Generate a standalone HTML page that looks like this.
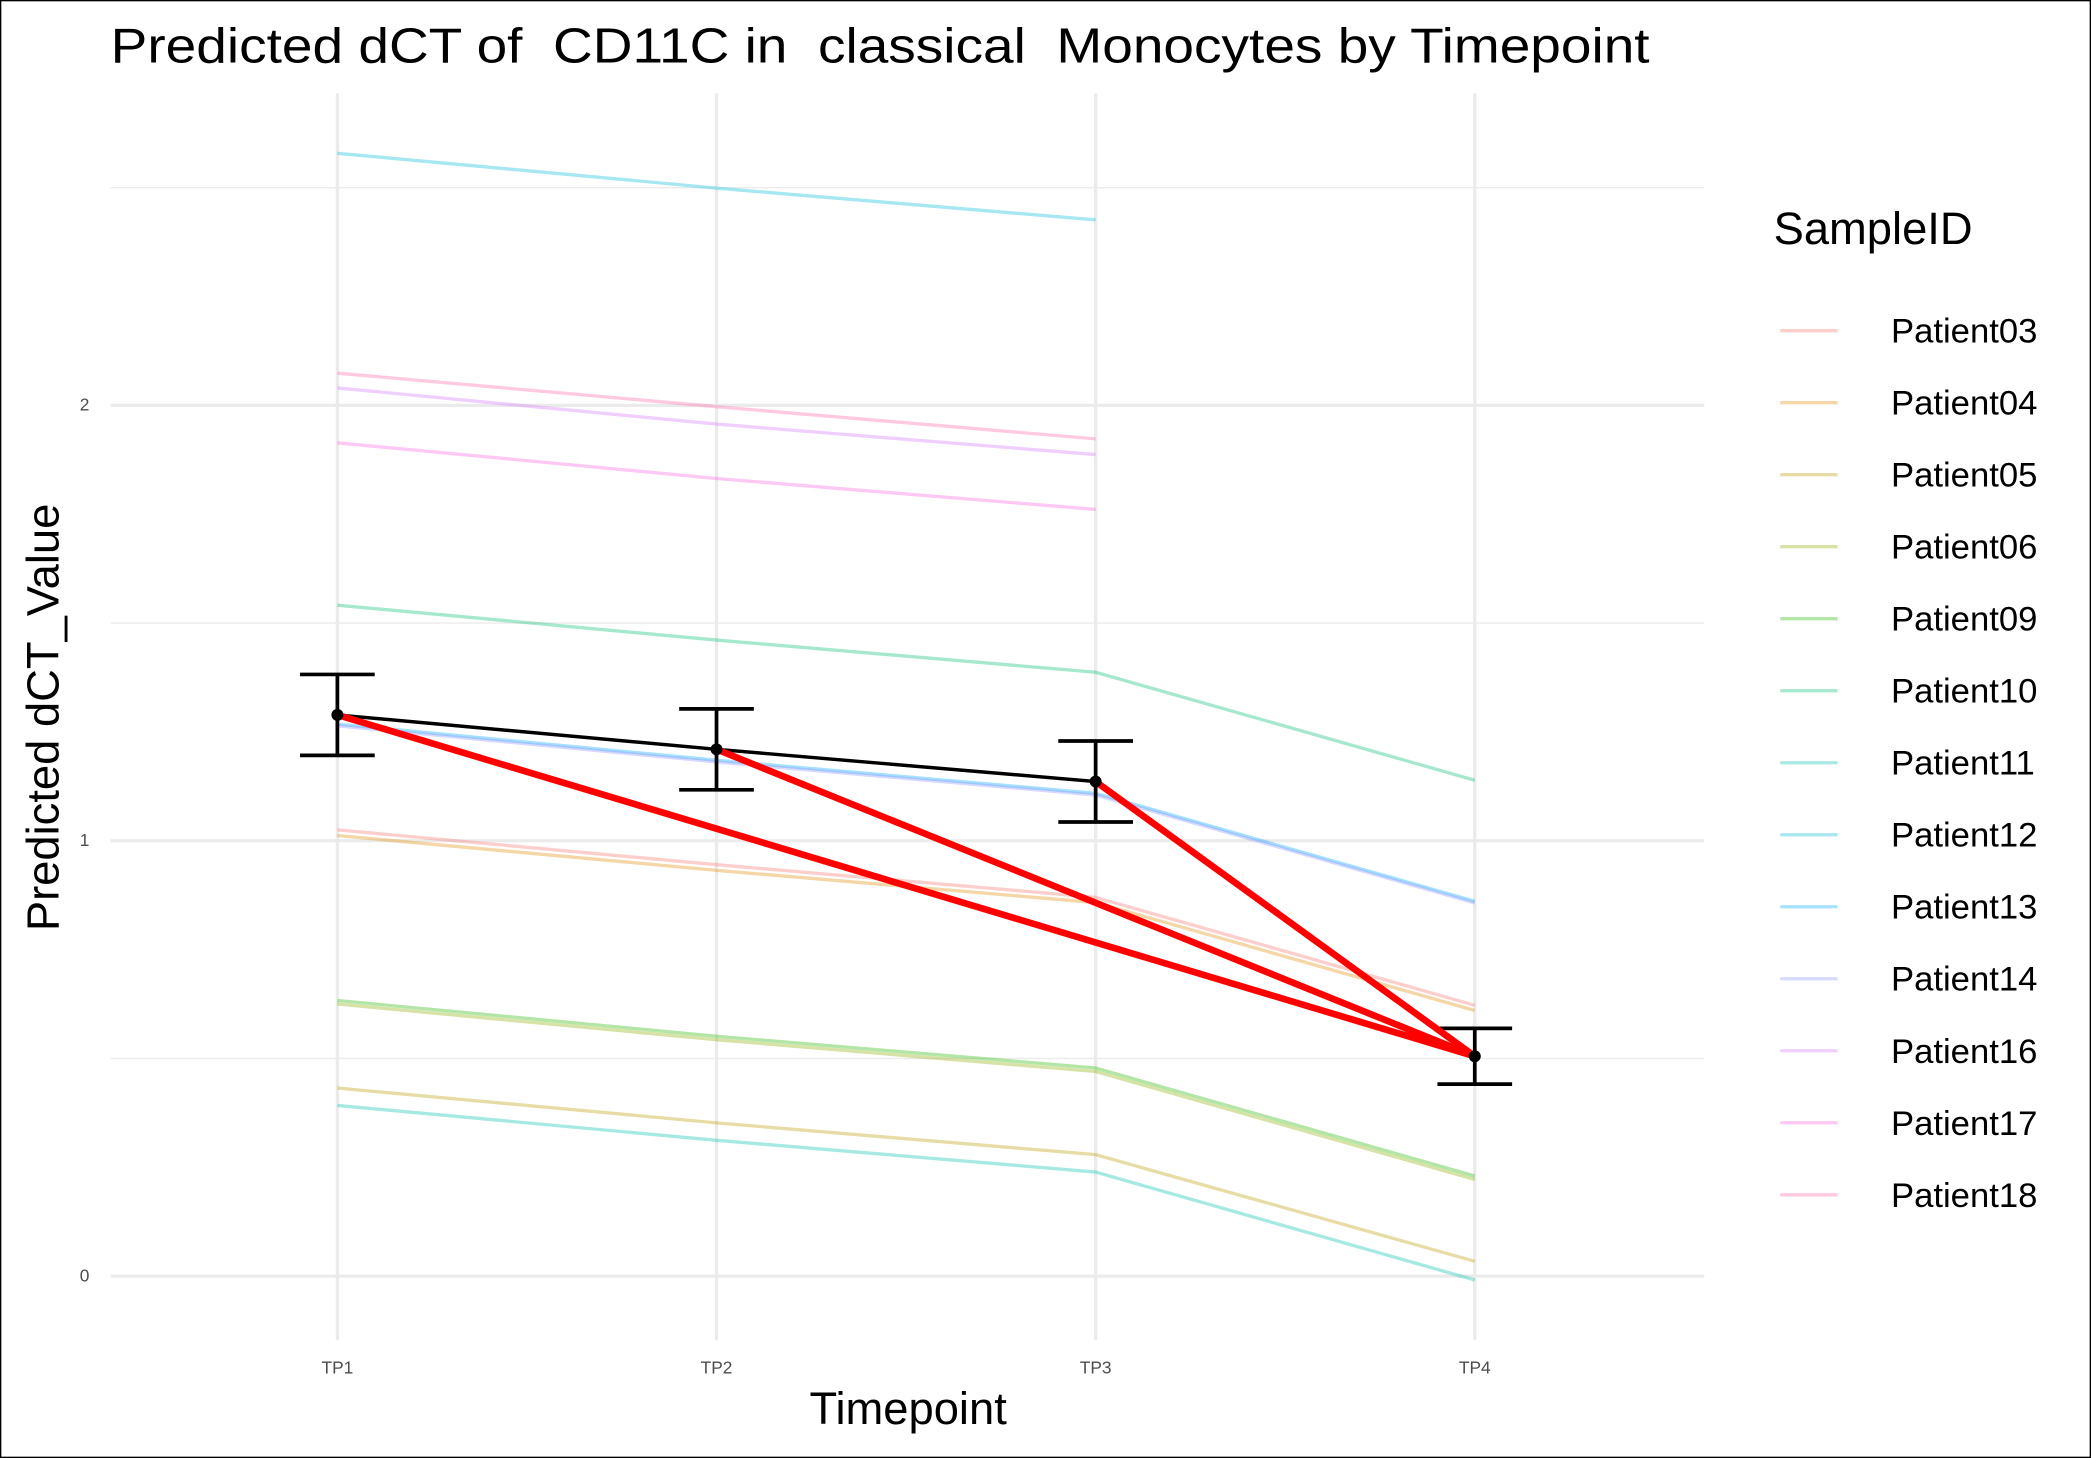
<!DOCTYPE html>
<html><head><meta charset="utf-8"><style>
html,body{margin:0;padding:0;background:#fff}
svg{display:block}
text{font-family:"Liberation Sans",Arial,sans-serif;white-space:pre}
</style></head><body>
<svg id="chart" width="2091" height="1458" viewBox="0 0 1568 1093.4" preserveAspectRatio="none" xmlns="http://www.w3.org/2000/svg" xml:space="preserve">
<rect x="0.5" y="0.5" width="1567" height="1092.4" fill="#fff" stroke="#000" stroke-width="1"/>
<text x="83" y="47" font-size="37" textLength="1154" lengthAdjust="spacingAndGlyphs" fill="#000">Predicted dCT of  CD11C in  classical  Monocytes by Timepoint</text>
<g id="grid"></g>
<g id="series"></g>
<g id="axes"></g>
<g id="legend"></g>
<text x="681" y="1068" font-size="34" text-anchor="middle" fill="#000">Timepoint</text>
<text transform="translate(44,538) rotate(-90)" font-size="34" text-anchor="middle" fill="#000">Predicted dCT_Value</text>
</svg>
<script>
const timepoints = ["TP1","TP2","TP3","TP4"];
const yTicks = [0,1,2];
const yMinor = [0.5,1.5,2.5];
const patients = ["Patient03","Patient04","Patient05","Patient06","Patient09","Patient10","Patient11","Patient12","Patient13","Patient14","Patient16","Patient17","Patient18"];
const colors = ["#F8766D","#E18A00","#BE9C00","#8CAB00","#24B700","#00BE70","#00C1AB","#00BBDA","#00ACFC","#8B93FF","#D575FE","#F962DD","#FF65AC"];
const p03 = [1.025,0.945,0.870,0.622];
const p04 = [1.012,0.932,0.858,0.610];
const p05 = [0.432,0.352,0.279,0.034];
const p06 = [0.625,0.543,0.470,0.222];
const p09 = [0.633,0.551,0.478,0.230];
const p10 = [1.541,1.461,1.387,1.139];
const p11 = [0.392,0.312,0.239,-0.009];
const p12 = [2.579,2.499,2.426,null];
const p13 = [1.268,1.185,1.109,0.861];
const p14 = [1.264,1.181,1.105,0.857];
const p16 = [2.040,1.957,1.887,null];
const p17 = [1.914,1.832,1.761,null];
const p18 = [2.074,1.997,1.923,null];
const patientValues = [p03,p04,p05,p06,p09,p10,p11,p12,p13,p14,p16,p17,p18];
const meanValues = [1.289,1.210,1.136,0.505];
const errValues = [0.093,0.093,0.093,0.064];

const NS="http://www.w3.org/2000/svg";
const X0=253, XSTEP=284.3, Y0=957, YPU=326.5;
const xs=i=>X0+i*XSTEP;
const ys=v=>Y0-v*YPU;
function mk(tag,attrs,parent){const e=document.createElementNS(NS,tag);for(const k in attrs)e.setAttribute(k,attrs[k]);parent.appendChild(e);return e;}
const grid=document.getElementById('grid'),series=document.getElementById('series'),axes=document.getElementById('axes'),legend=document.getElementById('legend');
yMinor.forEach(v=>{const l=mk('line',{x1:83,x2:1278,y1:ys(v),y2:ys(v),stroke:'#ebebeb','stroke-width':1},grid);

});
yTicks.forEach(v=>{const l=mk('line',{x1:83,x2:1278,y1:ys(v),y2:ys(v),stroke:'#ebebeb','stroke-width':2.5},grid);


const t=mk('text',{x:67,y:ys(v)+4,'font-size':13,'text-anchor':'end',fill:'#4d4d4d'},axes);t.textContent=v;

});
timepoints.forEach((tp,i)=>{const l=mk('line',{x1:xs(i),x2:xs(i),y1:70,y2:1005,stroke:'#ebebeb','stroke-width':2.5},grid);


const t=mk('text',{x:xs(i),y:1030,'font-size':13,'text-anchor':'middle',fill:'#4d4d4d'},axes);t.textContent=tp;

});
patientValues.forEach((vals,pi)=>{const pts=[];vals.forEach((v,i)=>{if(v!==null)pts.push(xs(i)+','+ys(v));});
const pl=mk('polyline',{points:pts.join(' '),fill:'none',stroke:colors[pi],'stroke-opacity':0.35,'stroke-width':2.5},series);

});
const mpts=meanValues.map((v,i)=>xs(i)+','+ys(v)).join(' ');
const ml=mk('polyline',{points:mpts,fill:'none',stroke:'#000','stroke-width':2.6},series);


meanValues.forEach((v,i)=>{const g=mk('g',{},series);


const t=ys(v+errValues[i]),b=ys(v-errValues[i]);
mk('line',{x1:xs(i),x2:xs(i),y1:t,y2:b,stroke:'#000','stroke-width':2.8},g);
mk('line',{x1:xs(i)-28,x2:xs(i)+28,y1:t,y2:t,stroke:'#000','stroke-width':2.8},g);
mk('line',{x1:xs(i)-28,x2:xs(i)+28,y1:b,y2:b,stroke:'#000','stroke-width':2.8},g);});
for(let i=0;i<3;i++){const r=mk('line',{x1:xs(i),y1:ys(meanValues[i]),x2:xs(3),y2:ys(meanValues[3]),stroke:'#ff0000','stroke-width':5},series);

}
meanValues.forEach((v,i)=>{const c=mk('circle',{cx:xs(i),cy:ys(v),r:4.5,fill:'#000'},series);

});
const lt=mk('text',{x:1330,y:183,'font-size':34,fill:'#000'},legend);lt.textContent='SampleID';


patients.forEach((p,i)=>{const y=248+54*i;const g=mk('g',{},legend);


mk('line',{x1:1335,x2:1378,y1:y,y2:y,stroke:colors[i],'stroke-opacity':0.35,'stroke-width':2.5},g);
const t=mk('text',{x:1418,y:y+9,'font-size':26,fill:'#000'},g);t.textContent=p;});
</script>
</body></html>
